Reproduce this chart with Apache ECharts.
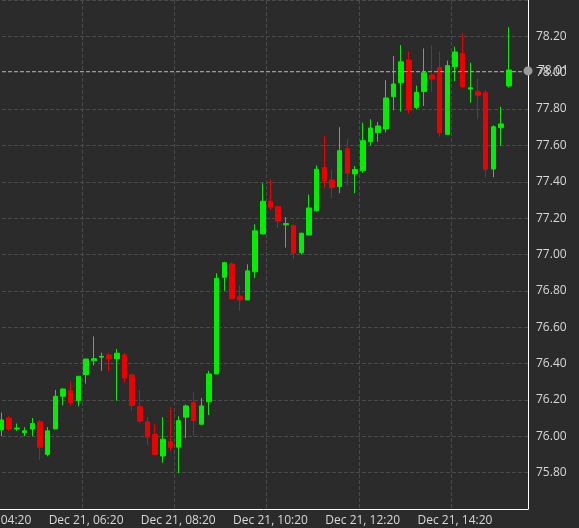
<!DOCTYPE html>
<html><head><meta charset="utf-8">
<script src="https://cdn.jsdelivr.net/npm/echarts@6/dist/echarts.min.js"></script>
<style>html,body{margin:0;padding:0;background:#2b2b2b}#c{width:579px;height:528px}</style>
</head><body><div id="c"></div>
<script>
// 10-minute candles, Dec 21, from 04:20 to 15:50
const startMinutes = 4*60+20;
const slotCount = 70;
const categories = [];
for (let i = 0; i < slotCount; i++) {
  const m = startMinutes + i*10;
  const hh = String(Math.floor(m/60)).padStart(2,'0'), mm = String(m%60).padStart(2,'0');
  categories.push('Dec 21, ' + hh + ':' + mm);
}
// [open, close, low, high] starting at 04:30
const candles = [
[76.035,76.09,76.0,76.13],[76.10,76.04,76.03,76.11],[76.04,76.045,76.03,76.07],[76.02,76.03,76.0,76.05],
[76.04,76.07,76.0,76.10],[76.08,75.94,75.87,76.09],[75.90,76.03,75.89,76.05],[76.04,76.22,76.04,76.255],
[76.22,76.26,76.17,76.265],[76.25,76.185,76.17,76.30],[76.196,76.33,76.165,76.33],[76.34,76.425,76.29,76.425],
[76.415,76.427,76.39,76.55],[76.435,76.44,76.36,76.46],[76.447,76.427,76.36,76.46],[76.427,76.457,76.196,76.48],
[76.447,76.32,76.295,76.457],[76.337,76.17,76.14,76.345],[76.163,76.083,76.07,76.255],[76.08,75.995,75.95,76.105],
[76.01,75.90,75.895,76.07],[75.892,75.984,75.855,76.105],[75.97,75.94,75.92,76.16],[75.94,76.086,75.797,76.11],
[76.105,76.167,75.99,76.175],[76.185,76.086,76.0,76.244],[76.066,76.167,76.066,76.21],[76.19,76.343,76.117,76.36],
[76.343,76.869,76.343,76.897],[76.875,76.955,76.80,76.96],[76.948,76.757,76.757,76.955],[76.77,76.75,76.69,76.83],
[76.75,76.91,76.75,76.946],[76.905,77.13,76.87,77.166],[77.113,77.293,77.113,77.392],[77.293,77.26,77.245,77.414],
[77.263,77.184,77.146,77.27],[77.163,77.17,77.038,77.205],[77.16,77.007,76.974,77.165],[77.01,77.117,77.0,77.12],
[77.107,77.256,77.107,77.33],[77.241,77.469,77.235,77.49],[77.478,77.406,77.364,77.652],[77.41,77.368,77.31,77.465],
[77.373,77.571,77.337,77.70],[77.582,77.447,77.38,77.637],[77.443,77.467,77.337,77.487],[77.461,77.626,77.45,77.725],
[77.62,77.696,77.60,77.744],[77.67,77.707,77.62,77.729],[77.69,77.861,77.672,77.96],[77.868,77.938,77.795,78.092],
[77.945,78.06,77.786,78.152],[78.07,77.795,77.777,78.116],[77.808,77.892,77.80,77.929],[77.896,78.0,77.817,78.134],
[77.988,77.965,77.896,78.15],[78.028,77.67,77.648,78.116],[77.661,78.039,77.661,78.066],[78.033,78.114,77.954,78.143],
[78.107,77.923,77.914,78.217],[77.91,77.917,77.835,78.055],[77.896,77.876,77.744,77.969],[77.89,77.469,77.425,77.905],
[77.47,77.703,77.425,77.711],[77.698,77.718,77.597,77.813],[77.927,78.015,77.918,78.25]
];
const firstIndex = 1;
const lastPrice = 78.01;
const seriesData = categories.map((c,i)=>{
  const k = i - firstIndex;
  return (k>=0 && k<candles.length) ? candles[k] : '-';
});
const chart = echarts.init(document.getElementById('c'));
chart.setOption({
  backgroundColor:'#2b2b2b',
  animation:false,
  grid:{left:-10,right:51,top:0,bottom:19,containLabel:false,outerBoundsMode:'none'},
  xAxis:{type:'category',data:categories,boundaryGap:true,
    axisLine:{lineStyle:{color:'#ffffff'}},
    axisTick:{interval:11,alignWithLabel:true,lineStyle:{color:'#ffffff'},length:5},
    axisLabel:{interval:11,color:'#d8d8d8',fontSize:12,fontFamily:'Open Sans',margin:6,hideOverlap:false},
    splitLine:{show:true,interval:11,lineStyle:{color:'#4a4a4a',type:'dashed'}}},
  yAxis:{type:'value',position:'right',min:75.6,max:78.4,interval:0.2,scale:true,
    axisLine:{show:true,lineStyle:{color:'#ffffff'}},axisTick:{show:false},
    axisLabel:{showMinLabel:false,showMaxLabel:false,color:'#d8d8d8',fontSize:12,fontFamily:'Open Sans',margin:8,
      formatter:v=>v.toFixed(2)},
    splitLine:{lineStyle:{color:'#4a4a4a',type:'dashed'}}},
  series:[{type:'candlestick',data:seriesData,barWidth:5,
    itemStyle:{color:'#00ee00',color0:'#ee0000',borderColor:'#00ee00',borderColor0:'#ee0000',borderWidth:1},
    markLine:{silent:true,symbol:['none','circle'],symbolSize:9,
      lineStyle:{color:'#9a9a9a',type:'dashed',width:1},
      label:{position:'end',color:'#d8d8d8',fontSize:12,fontFamily:'Open Sans',formatter:lastPrice.toFixed(2),distance:10},
      data:[{yAxis:lastPrice,itemStyle:{color:'#8a8a8a'}}]}}]
});
</script></body></html>
